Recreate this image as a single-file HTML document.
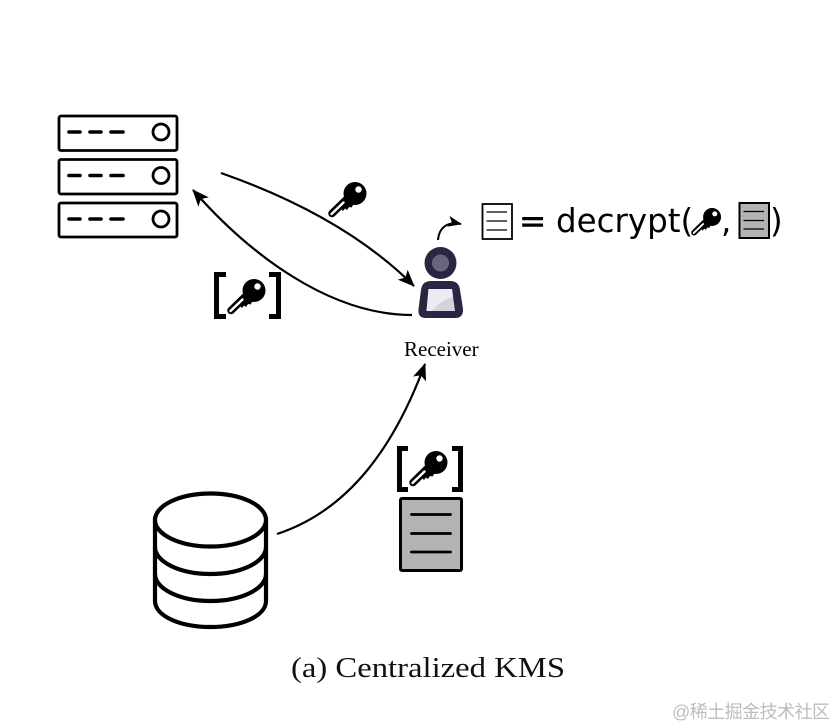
<!DOCTYPE html>
<html>
<head>
<meta charset="utf-8">
<style>
html,body{margin:0;padding:0;background:#fff;width:834px;height:728px;overflow:hidden}
svg{display:block;filter:blur(0.35px)}
</style>
</head>
<body>
<svg width="834" height="728" viewBox="0 0 834 728" xmlns="http://www.w3.org/2000/svg">
<defs>
  <g id="key">
    <path d="M4 31.500 L22 14" stroke="#000" stroke-width="7.500" stroke-linecap="round" fill="none"/>
    <path d="M12 26 L15 29 L17 26.500 L19 28 L21 25 L23.500 25.500 L27 20 L18 14 Z" fill="#000"/>
    <circle cx="27" cy="11.500" r="11.500" fill="#000"/>
    <path d="M3.500 32 L15.500 20.500" stroke="#fff" stroke-width="2.400" stroke-linecap="round" fill="none"/>
    <circle cx="30.500" cy="7.500" r="3.200" fill="#fff"/>
  </g>
  <marker id="ah" markerWidth="20" markerHeight="16" refX="16" refY="7" orient="auto" markerUnits="userSpaceOnUse">
    <path d="M0 0 L17 7 L0 14 L4 7 Z" fill="#000"/>
  </marker>
  <marker id="ahs" markerWidth="16" markerHeight="14" refX="13" refY="5.500" orient="auto" markerUnits="userSpaceOnUse">
    <path d="M0 0 L14 5.500 L0 11 L3.500 5.500 Z" fill="#000"/>
  </marker>
</defs>

<!-- servers -->
<g fill="#fff" stroke="#000" stroke-width="2.800">
  <rect x="59" y="116" width="118" height="34.500" rx="2"/>
  <rect x="59" y="159.500" width="118" height="34.500" rx="2"/>
  <rect x="59" y="203" width="118" height="34" rx="2"/>
  <circle cx="161" cy="132" r="8"/>
  <circle cx="161" cy="175.500" r="8"/>
  <circle cx="161" cy="219" r="8"/>
</g>
<g stroke="#000" stroke-width="3.600" stroke-linecap="round">
  <path d="M69 132H80M90 132H101M111 132H123"/>
  <path d="M69 175.500H80M90 175.500H101M111 175.500H123"/>
  <path d="M69 219H80M90 219H101M111 219H123"/>
</g>

<!-- connectors -->
<g fill="none" stroke="#000" stroke-width="2.200">
  <path d="M221 173 C298 200 365 237 414 286" marker-end="url(#ah)"/>
  <path d="M412 315 C330 315 250 255 193 190" marker-end="url(#ah)"/>
  <path d="M277 534 C350 510 395 445 425 364" marker-end="url(#ah)"/>
  <path d="M438 240 C439 228 447 221 461 224" stroke-width="2" marker-end="url(#ahs)"/>
</g>

<!-- keys -->
<use href="#key" x="328" y="182"/>
<use href="#key" x="227" y="279"/>
<use href="#key" x="409" y="451"/>
<g transform="translate(691 208) scale(0.78)"><use href="#key"/></g>

<!-- brackets -->
<g fill="none" stroke="#000" stroke-width="5">
  <path d="M226 274.500H216.500V316.500H226"/>
  <path d="M269 274.500H278.500V316.500H269"/>
  <path d="M408 448.500H399.500V489.500H408"/>
  <path d="M452 448.500H460.500V489.500H452"/>
</g>

<!-- plain doc -->
<rect x="482.500" y="204" width="29.500" height="35" fill="#fff" stroke="#000" stroke-width="1.800"/>
<path d="M486.500 212H507M486.500 221H507M486.500 230H507" stroke="#000" stroke-width="1.300"/>
<text x="519" y="232" font-family="'DejaVu Sans',sans-serif" font-size="32.500" fill="#000" stroke="#000" stroke-width="0.500">=</text>
<text x="556" y="232" font-family="'DejaVu Sans',sans-serif" font-size="32.500" fill="#000">decrypt(</text>
<text x="721" y="232" font-family="'DejaVu Sans',sans-serif" font-size="32.500" fill="#000">,</text>
<rect x="739.500" y="203" width="29.500" height="35" fill="#b3b3b3" stroke="#000" stroke-width="2"/>
<path d="M743.500 211.500H764M743.500 220.500H764M743.500 229H764" stroke="#000" stroke-width="1.300"/>
<text x="770" y="232" font-family="'DejaVu Sans',sans-serif" font-size="32.500" fill="#000">)</text>

<!-- person -->
<circle cx="440.500" cy="263" r="16" fill="#2b2543"/>
<circle cx="440.500" cy="263" r="8.500" fill="#68667c"/>
<path d="M431 281H450Q459 281 460 290L463 309Q463.500 318 455 318H426Q417.500 318 418.500 309L421 290Q422 281 431 281Z" fill="#2b2543"/>
<path d="M428.500 289H452L455 311H426.500Z" fill="#d3d3db"/>
<path d="M428.500 289H452L453 297Q441 300 432 311H426.500Z" fill="#ecebf2"/>

<text x="404" y="356" font-family="'Liberation Serif',serif" font-size="21" fill="#000">Receiver</text>

<!-- database -->
<g fill="#fff" stroke="#000" stroke-width="4.200">
  <path d="M155 520V601C155 616 180 627 210.500 627C241 627 266 616 266 601V520Z"/>
  <path d="M155 547C155 562 180 574 210.500 574C241 574 266 562 266 547" fill="none"/>
  <path d="M155 574C155 589 180 601 210.500 601C241 601 266 589 266 574" fill="none"/>
  <ellipse cx="210.500" cy="520" rx="55.500" ry="26.500"/>
</g>

<!-- gray doc -->
<rect x="400.500" y="498.500" width="61" height="72" rx="1.500" fill="#b3b3b3" stroke="#000" stroke-width="3"/>
<path d="M411.500 514.500H450.500M411.500 533.500H450.500M411.500 552H450.500" stroke="#000" stroke-width="2.800" stroke-linecap="round"/>

<!-- caption -->
<text x="291" y="677" font-family="'Liberation Serif',serif" font-size="28" fill="#111" textLength="274" lengthAdjust="spacingAndGlyphs">(a) Centralized KMS</text>

<!-- watermark -->
<text x="672" y="718" font-family="'Liberation Sans','Noto Sans CJK SC',sans-serif" font-size="18" fill="#bdbdbd" textLength="158">@稀土掘金技术社区</text>
</svg>
</body>
</html>
